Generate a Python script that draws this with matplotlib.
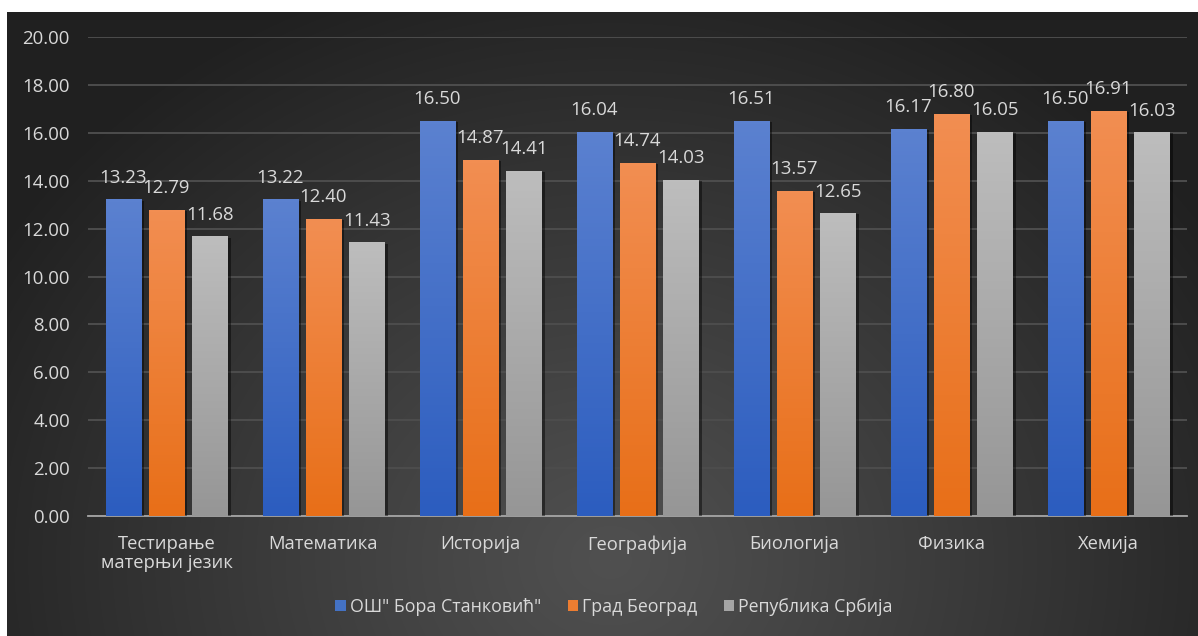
import numpy as np
import matplotlib
matplotlib.use("Agg")
import matplotlib.pyplot as plt
from matplotlib.patches import Patch
from matplotlib.colors import LinearSegmentedColormap
import matplotlib.patheffects as pe

categories = ["Тестирање\nматерњи језик", "Математика", "Историја", "Географија",
              "Биологија", "Физика", "Хемија"]
series_names = ["ОШ\" Бора Станковић\"", "Град Београд", "Република Србија"]
school = [13.23, 13.22, 16.50, 16.04, 16.51, 16.17, 16.50]
belgrade = [12.79, 12.40, 14.87, 14.74, 13.57, 16.80, 16.91]
serbia = [11.68, 11.43, 14.41, 14.03, 12.65, 16.05, 16.03]
yticks = [0, 2, 4, 6, 8, 10, 12, 14, 16, 18, 20]

plt.rcParams['font.family'] = ['Open Sans', 'DejaVu Sans']

W, H = 1198, 636
fig = plt.figure(figsize=(W / 100, H / 100), dpi=100)
fig.patch.set_facecolor('white')

# background panel with radial gradient
bx0, by0, bx1, by1 = 7, 12, 1198, 636
bg = fig.add_axes([bx0 / W, 1 - by1 / H, (bx1 - bx0) / W, (by1 - by0) / H])
bg.set_axis_off()
yy, xx = np.mgrid[by0:by1, bx0:bx1]
d = np.sqrt(((xx - 610) / 720.0) ** 2 + ((yy - 560) / 620.0) ** 2)
d = np.clip(d, 0, 1)
light, dark = 0x50 / 255, 0x20 / 255
val = light - (light - dark) * d ** 1.1
img = np.dstack([val, val, val])
bg.imshow(img, extent=[0, 1, 0, 1], aspect='auto', origin='upper')
bg.set_xlim(0, 1)
bg.set_ylim(0, 1)

ax = fig.add_axes([88 / W, 1 - 516 / H, (1187 - 88) / W, (516 - 37) / H])
ax.set_facecolor('none')
ax.set_xlim(0, len(categories))
ax.set_ylim(0, 20)

for s in ['top', 'right', 'left']:
    ax.spines[s].set_visible(False)
ax.spines['bottom'].set_color('#a6a6a6')
ax.spines['bottom'].set_linewidth(1.3)
ax.set_yticks(yticks)
ax.set_yticklabels([f"{v:.2f}" for v in yticks])
ax.yaxis.grid(True, color='#4d4d4d', linewidth=1.4)
ax.set_axisbelow(True)
ax.tick_params(axis='y', length=0, pad=13, labelsize=13.4, labelcolor='#d9d9d9')
x = np.arange(len(categories)) + 0.5
ax.set_xticks(x)
ax.set_xticklabels(categories, linespacing=1.05)
ax.tick_params(axis='x', length=0, pad=14, labelsize=13.2, labelcolor='#d9d9d9')

width = 0.223
step = 0.277
grads = [('#5b81d0', '#2c5dbf'), ('#f28e52', '#e86f18'), ('#bdbdbd', '#969696')]
solid = ['#4472c4', '#ed7d31', '#a5a5a5']
data = [school, belgrade, serbia]

for i, (vals, (ct, cb)) in enumerate(zip(data, grads)):
    pos = x + (i - 1) * step
    bars = ax.bar(pos, vals, width=width, color=solid[i], zorder=3,
                  path_effects=[pe.SimplePatchShadow(offset=(2.5, -1), shadow_rgbFace='black', alpha=0.45),
                                pe.Normal()])
    cmap = LinearSegmentedColormap.from_list(f'g{i}', [cb, ct])
    for b, v in zip(bars, vals):
        grad = np.linspace(1, 0, 100).reshape(-1, 1)
        im = ax.imshow(grad, cmap=cmap, vmin=0, vmax=1, aspect='auto',
                       extent=[b.get_x(), b.get_x() + b.get_width(), 0, v],
                       zorder=4, origin='upper')
        im.set_clip_path(b)
        ax.annotate(f"{v:.2f}", (b.get_x() + b.get_width() / 2, v),
                    xytext=(0, 15.5), textcoords='offset points',
                    ha='center', va='center', fontsize=13.4, color='#d9d9d9', zorder=6)

ax.set_xlim(0, len(categories))
ax.set_ylim(0, 20)

handles = [Patch(facecolor=c, edgecolor='none') for c in solid]
leg = fig.legend(handles, series_names, loc='center', bbox_to_anchor=(614 / W, 1 - 607 / H),
                 ncol=3, frameon=False, fontsize=12.8, handlelength=0.6, handleheight=0.6,
                 handletextpad=0.2, columnspacing=1.5, labelcolor='#d9d9d9')

fig.savefig('out.png', dpi=100, facecolor=fig.get_facecolor())
